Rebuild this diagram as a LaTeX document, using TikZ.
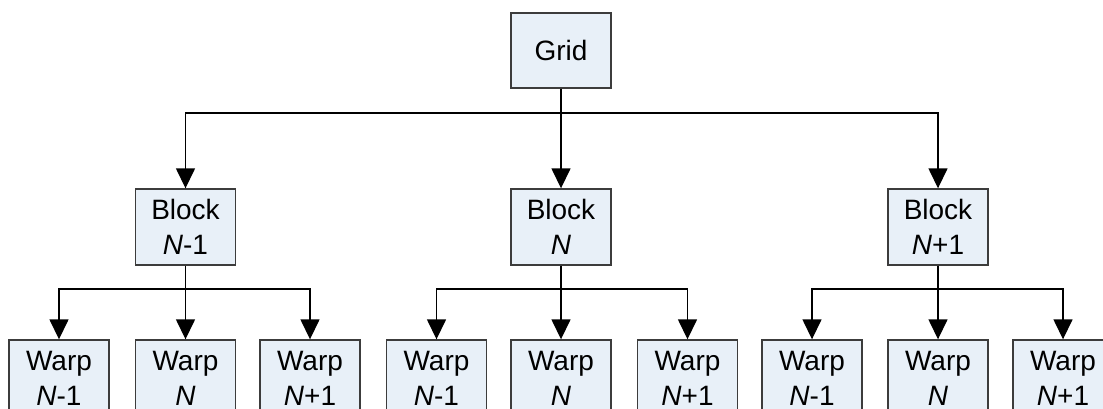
\documentclass[tikz,border=0pt]{standalone}
\usepackage{fontspec}
\setmainfont{Liberation Sans}
\usetikzlibrary{arrows.meta}
\definecolor{boxfill}{RGB}{232,240,248}
\definecolor{boxline}{RGB}{60,60,60}
\tikzset{
  tbox/.style={draw=boxline, fill=boxfill, line width=1.4pt, rectangle,
    minimum width=100pt, minimum height=76pt, align=center, inner sep=0pt,
    font=\fontsize{28}{35}\selectfont},
  conn/.style={draw=black, line width=1.5pt, -{Triangle[length=20pt,width=19pt]}},
  plain/.style={draw=black, line width=1.5pt}
}
\begin{document}
\begin{tikzpicture}[x=1pt,y=-1pt]
\useasboundingbox (0,0) rectangle (1103,408);
\clip (0,0) rectangle (1103,408);
\fill[white] (0,0) rectangle (1103,408);
% grid
\node[tbox, minimum height=75pt] (grid) at (561,50.5) {Grid};
% blocks
\node[tbox] (b1) at (185.5,227) {Block\\\textit{N}-1};
\node[tbox] (b2) at (561,227) {Block\\\textit{N}};
\node[tbox] (b3) at (938,227) {Block\\\textit{N}+1};
% warps
\node[tbox] (w11) at (59,378) {Warp\\\textit{N}-1};
\node[tbox] (w12) at (185.5,378) {Warp\\\textit{N}};
\node[tbox] (w13) at (310,378) {Warp\\\textit{N}+1};
\node[tbox] (w21) at (436.5,378) {Warp\\\textit{N}-1};
\node[tbox] (w22) at (561,378) {Warp\\\textit{N}};
\node[tbox] (w23) at (687.5,378) {Warp\\\textit{N}+1};
\node[tbox] (w31) at (812,378) {Warp\\\textit{N}-1};
\node[tbox] (w32) at (938,378) {Warp\\\textit{N}};
\node[tbox] (w33) at (1063,378) {Warp\\\textit{N}+1};
% junctions
\coordinate (g0) at (561,113);
\coordinate (j1) at (185.5,289);
\coordinate (j2) at (561,289);
\coordinate (j3) at (938,289);
% connectors grid -> blocks
\draw[plain] (grid.south) -- (g0);
\draw[conn] (g0) -| (b1.north);
\draw[conn] (g0) -- (b2.north);
\draw[conn] (g0) -| (b3.north);
% blocks -> warps
\draw[plain] (b1.south) -- (j1);
\draw[conn] (j1) -| (w11.north);
\draw[conn] (j1) -- (w12.north);
\draw[conn] (j1) -| (w13.north);
\draw[plain] (b2.south) -- (j2);
\draw[conn] (j2) -| (w21.north);
\draw[conn] (j2) -- (w22.north);
\draw[conn] (j2) -| (w23.north);
\draw[plain] (b3.south) -- (j3);
\draw[conn] (j3) -| (w31.north);
\draw[conn] (j3) -- (w32.north);
\draw[conn] (j3) -| (w33.north);
\end{tikzpicture}
\end{document}
